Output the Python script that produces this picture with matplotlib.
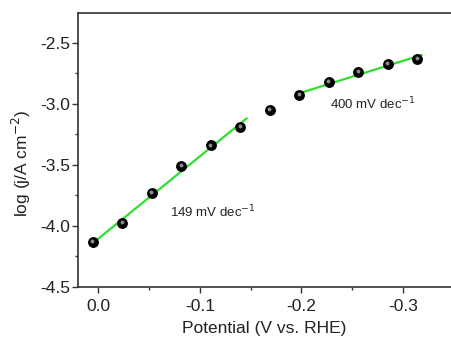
import numpy as np
import matplotlib.pyplot as plt
import matplotlib.transforms as mtransforms
from matplotlib.ticker import MultipleLocator

plt.rcParams['font.family'] = ['Liberation Sans', 'DejaVu Sans']

# measured points
potential = [0.005, -0.024, -0.053, -0.082, -0.111, -0.140,
             -0.169, -0.198, -0.227, -0.256, -0.285, -0.314]
log_j = [-4.13, -3.975, -3.73, -3.51, -3.34, -3.19,
         -3.05, -2.925, -2.82, -2.735, -2.67, -2.63]

# Tafel fit lines (end points)
fit1_x = [0.005, -0.146]
fit1_y = [-4.14, -3.12]
fit2_x = [-0.199, -0.318]
fit2_y = [-2.91, -2.60]

fig = plt.figure(figsize=(4.51, 3.40), dpi=100)
ax = fig.add_axes([0.173, 0.156, 0.827, 0.806])

ax.plot(fit1_x, fit1_y, color='#2ee02e', lw=1.6, zorder=2)
ax.plot(fit2_x, fit2_y, color='#2ee02e', lw=1.6, zorder=2)
ax.plot(potential, log_j, 'o', color='black', ms=6.8, zorder=3)
# little highlight on each sphere
hl = mtransforms.offset_copy(ax.transData, fig=fig, x=-0.6, y=0.6, units='points')
ax.plot(potential, log_j, 'o', color='#8c8c8c', ms=2.8, mec='none', transform=hl, zorder=4)

ax.text(-0.0705, -3.886, '149 mV dec$^{-1}$', fontsize=9.5, va='center', color='#222222')
ax.text(-0.228, -3.0, '400 mV dec$^{-1}$', fontsize=9.5, va='center', color='#222222')

ax.set_xlim(0.0197, -0.347)
ax.set_ylim(-4.5, -2.255)
ax.xaxis.set_major_locator(MultipleLocator(0.1))
ax.xaxis.set_minor_locator(MultipleLocator(0.05))
ax.yaxis.set_major_locator(MultipleLocator(0.5))
ax.yaxis.set_minor_locator(MultipleLocator(0.25))
ax.xaxis.set_major_formatter(plt.FuncFormatter(lambda v, _: f'{v:.1f}'))
ax.yaxis.set_major_formatter(plt.FuncFormatter(lambda v, _: f'{v:.1f}'))

for s in ['left', 'bottom', 'top']:
    ax.spines[s].set_linewidth(1.2)
    ax.spines[s].set_color('#333333')
ax.spines['right'].set_visible(False)
ax.tick_params(which='both', direction='out', color='#333333', width=1.0, top=False, right=False)
ax.tick_params(which='major', length=4, labelsize=12.5, labelcolor='#222222')
ax.tick_params(axis='x', which='major', pad=4.5)
ax.tick_params(axis='y', which='major', pad=1.5)
ax.tick_params(which='minor', length=2.5)

ax.set_xlabel('Potential (V vs. RHE)', fontsize=12.5, color='#222222', labelpad=5)
ax.set_ylabel('log (j/A cm$^{-2}$)', fontsize=12.5, color='#222222')
ax.yaxis.set_label_coords(-0.12, 0.45)

fig.savefig('out.png', dpi=100)
